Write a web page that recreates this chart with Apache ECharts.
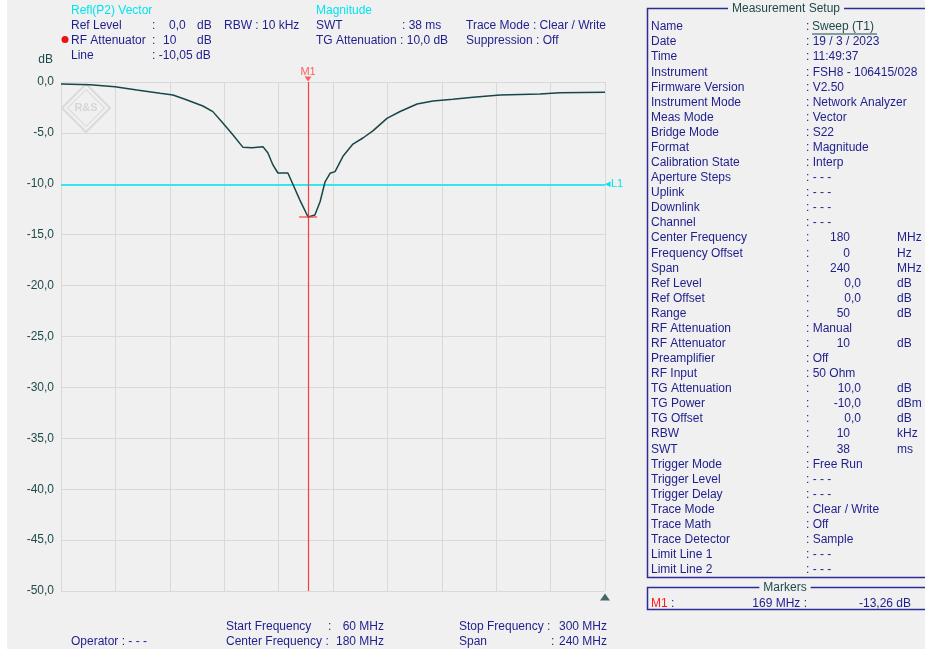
<!DOCTYPE html>
<html>
<head>
<meta charset="utf-8">
<script src="https://cdn.jsdelivr.net/npm/echarts@6/dist/echarts.min.js"></script>
<style>
  html, body { margin: 0; padding: 0; background: #ffffff; }
  #chart { width: 925px; height: 655px; }
</style>
</head>
<body>
<div id="chart"></div>
<script>
// Sweep trace (frequency in MHz, magnitude in dB)
const freqMHz = [60, 72.8, 83.8, 93.5, 103.7, 109.4, 115.6, 122.6, 127, 131.5, 135.9, 140.3, 144.3, 149.1,
  151.3, 153.5, 155.7, 160.1, 162.4, 165.4, 169, 172, 174.3, 176.5, 178.7, 180.9, 184.4, 188.8, 193.2,
  197.6, 203.8, 209.6, 217.1, 224.1, 232.9, 241.8, 253.7, 271.3, 280.1, 300];
const magDB = [-0.2, -0.26, -0.46, -0.79, -1.11, -1.28, -1.77, -2.36, -2.91, -4.05, -5.2, -6.42, -6.45, -6.35,
  -6.97, -8.15, -8.94, -8.94, -10.1, -11.6, -13.26, -13.07, -11.76, -9.8, -8.97, -8.8, -7.3, -6.1, -5.5,
  -4.8, -3.57, -2.9, -2.16, -1.87, -1.7, -1.5, -1.28, -1.18, -1.05, -1.0];

// Marker and limit line
const markerFreq = 169;
const markerLevel = -13.26;
const limitLine = -10.05;

// Axis settings
const startFreq = 60, stopFreq = 300, freqStep = 24;
const refLevel = 0, rangeDB = 50, dbStep = 5;

// Measurement setup table
const setupNames = ['Name', 'Date', 'Time', 'Instrument', 'Firmware Version', 'Instrument Mode', 'Meas Mode',
  'Bridge Mode', 'Format', 'Calibration State', 'Aperture Steps', 'Uplink', 'Downlink', 'Channel',
  'Center Frequency', 'Frequency Offset', 'Span', 'Ref Level', 'Ref Offset', 'Range', 'RF Attenuation',
  'RF Attenuator', 'Preamplifier', 'RF Input', 'TG Attenuation', 'TG Power', 'TG Offset', 'RBW', 'SWT',
  'Trigger Mode', 'Trigger Level', 'Trigger Delay', 'Trace Mode', 'Trace Math', 'Trace Detector',
  'Limit Line 1', 'Limit Line 2'];
const setupValues = ['Sweep (T1)', '19 / 3 / 2023', '11:49:37', 'FSH8 - 106415/028', 'V2.50', 'Network Analyzer',
  'Vector', 'S22', 'Magnitude', 'Interp', '- - -', '- - -', '- - -', '- - -',
  '180', '0', '240', '0,0', '0,0', '50', 'Manual',
  '10', 'Off', '50 Ohm', '10,0', '-10,0', '0,0', '10', '38',
  'Free Run', '- - -', '- - -', 'Clear / Write', 'Off', 'Sample',
  '- - -', '- - -'];
const setupUnits = ['', '', '', '', '', '', '', '', '', '', '', '', '', '',
  'MHz', 'Hz', 'MHz', 'dB', 'dB', 'dB', '',
  'dB', '', '', 'dB', 'dBm', 'dB', 'kHz', 'ms',
  '', '', '', '', '', '', '', ''];

const FONT = '"Liberation Sans", Arial, sans-serif';
const NAVY = '#1e1e8c';
const TEAL = '#1d4a4a';
const CYAN = '#00e5ef';
const RED = '#ff3b3b';
const BG = '#f0f0f0';

function txt(x, y, s, color, opts) {
  opts = opts || {};
  return {
    type: 'text', x: x, y: y + 2, silent: true, z: 10,
    style: {
      text: s, fill: color || NAVY, font: (opts.size || 12) + 'px ' + FONT,
      textAlign: opts.align || 'left', textVerticalAlign: 'middle',
      backgroundColor: opts.bg, padding: opts.pad
    }
  };
}

const graphics = [];

// white margins around the instrument window
graphics.push({ type: 'rect', shape: { x: 0, y: 649, width: 925, height: 6 }, style: { fill: '#ffffff' }, z: -1, silent: true });
graphics.push({ type: 'rect', shape: { x: 0, y: 0, width: 7, height: 655 }, style: { fill: '#ffffff' }, z: -1, silent: true });

// header block
graphics.push(txt(71, 9, 'Refl(P2) Vector', CYAN));
graphics.push(txt(316, 9, 'Magnitude', CYAN));
graphics.push(txt(71, 24, 'Ref Level'));
graphics.push(txt(152, 24, ':'));
graphics.push(txt(169, 24, '0,0'));
graphics.push(txt(197, 24, 'dB'));
graphics.push(txt(224, 24, 'RBW : 10 kHz'));
graphics.push(txt(316, 24, 'SWT'));
graphics.push(txt(402, 24, ': 38 ms'));
graphics.push(txt(466, 24, 'Trace Mode : Clear / Write'));
graphics.push({ type: 'circle', shape: { cx: 65, cy: 39.5, r: 3.5 }, style: { fill: '#ee1111' }, silent: true });
graphics.push(txt(71, 39, 'RF Attenuator'));
graphics.push(txt(152, 39, ':'));
graphics.push(txt(163, 39, '10'));
graphics.push(txt(197, 39, 'dB'));
graphics.push(txt(316, 39, 'TG Attenuation : 10,0 dB'));
graphics.push(txt(466, 39, 'Suppression : Off'));
graphics.push(txt(71, 54, 'Line'));
graphics.push(txt(152, 54, ': -10,05 dB'));
graphics.push(txt(53, 58, 'dB', TEAL, { align: 'right' }));

// watermark logo
graphics.push({ type: 'rect', x: 86, y: 108, rotation: Math.PI / 4, shape: { x: -17, y: -17, width: 34, height: 34 },
  style: { fill: 'none', stroke: '#dadada', lineWidth: 2 }, silent: true, z: 0 });
graphics.push({ type: 'rect', x: 86, y: 108, rotation: Math.PI / 4, shape: { x: -13, y: -13, width: 26, height: 26 },
  style: { fill: 'none', stroke: '#dadada', lineWidth: 1 }, silent: true, z: 0 });
graphics.push({ type: 'text', x: 86, y: 108, silent: true, z: 0,
  style: { text: 'R&S', fill: '#d6d6d6', font: 'bold 11px ' + FONT, textAlign: 'center', textVerticalAlign: 'middle' } });

// footer block
graphics.push(txt(71, 640, 'Operator : - - -'));
graphics.push(txt(226, 625, 'Start Frequency'));
graphics.push(txt(328, 625, ':'));
graphics.push(txt(384, 625, startFreq + ' MHz', NAVY, { align: 'right' }));
graphics.push(txt(226, 640, 'Center Frequency :'));
graphics.push(txt(384, 640, ((startFreq + stopFreq) / 2) + ' MHz', NAVY, { align: 'right' }));
graphics.push(txt(459, 625, 'Stop Frequency :'));
graphics.push(txt(607, 625, stopFreq + ' MHz', NAVY, { align: 'right' }));
graphics.push(txt(459, 640, 'Span'));
graphics.push(txt(551, 640, ':'));
graphics.push(txt(607, 640, (stopFreq - startFreq) + ' MHz', NAVY, { align: 'right' }));

// measurement setup panel
graphics.push({ type: 'rect', shape: { x: 647.5, y: 8.5, width: 290, height: 569 },
  style: { fill: 'none', stroke: '#2c2c96', lineWidth: 1.5 }, silent: true });
graphics.push(txt(786, 7, 'Measurement Setup', TEAL, { align: 'center', bg: BG, pad: [0, 4] }));
setupNames.forEach(function (name, i) {
  const y = 25 + i * 15.08;
  graphics.push(txt(651, y, name));
  const v = setupValues[i];
  const u = setupUnits[i];
  if (u) {
    graphics.push(txt(806, y, ':'));
    graphics.push(txt(v.indexOf(',') >= 0 ? 861 : 850, y, v, NAVY, { align: 'right' }));
    graphics.push(txt(897, y, u));
  } else if (i === 0) {
    graphics.push(txt(806, y, ':'));
    graphics.push(txt(812, y, v, TEAL));
    graphics.push({ type: 'line', shape: { x1: 812, y1: y + 9, x2: 877, y2: y + 9 }, style: { stroke: TEAL, lineWidth: 1 }, silent: true });
  } else {
    graphics.push(txt(806, y, ': ' + v));
  }
});

// markers panel
graphics.push({ type: 'rect', shape: { x: 647.5, y: 587.5, width: 290, height: 22 },
  style: { fill: 'none', stroke: '#2c2c96', lineWidth: 1.5 }, silent: true });
graphics.push(txt(785, 586, 'Markers', TEAL, { align: 'center', bg: BG, pad: [0, 4] }));
graphics.push(txt(651, 602, 'M1', '#ff1a1a'));
graphics.push(txt(671, 602, ':'));
graphics.push(txt(807, 602, markerFreq + ' MHz :', NAVY, { align: 'right' }));
graphics.push(txt(911, 602, markerLevel.toFixed(2).replace('.', ',') + ' dB', NAVY, { align: 'right' }));

const chart = echarts.init(document.getElementById('chart'), null, { renderer: 'canvas' });
chart.setOption({
  backgroundColor: BG,
  animation: false,
  grid: { left: 61, top: 82, width: 544, height: 509, containLabel: false },
  xAxis: {
    type: 'value', min: startFreq, max: stopFreq, interval: freqStep,
    axisLine: { show: false }, axisTick: { show: false }, axisLabel: { show: false },
    splitLine: { show: true, lineStyle: { color: '#d9d9d9', width: 1 } }
  },
  yAxis: {
    type: 'value', min: refLevel - rangeDB, max: refLevel, interval: dbStep,
    axisLine: { show: false }, axisTick: { show: false },
    axisLabel: {
      color: TEAL, fontFamily: FONT, fontSize: 12, margin: 7,
      formatter: function (v) { return v.toFixed(1).replace('.', ','); }
    },
    splitLine: { show: true, lineStyle: { color: '#d9d9d9', width: 1 } }
  },
  series: [
    {
      type: 'line', data: freqMHz.map(function (f, i) { return [f, magDB[i]]; }),
      symbol: 'none', z: 5,
      lineStyle: { color: '#174747', width: 1.5 },
      markLine: {
        silent: true, symbol: 'none', animation: false,
        data: [
          {
            yAxis: limitLine, lineStyle: { color: CYAN, width: 1.5, type: 'solid' },
            label: { show: true, position: 'end', formatter: '◂L1', color: CYAN, fontFamily: FONT, fontSize: 11, distance: 0 }
          },
          {
            xAxis: markerFreq, lineStyle: { color: RED, width: 1.2, type: 'solid' }, label: { show: false }
          }
        ]
      }
    },
    {
      // marker crossbar at the measured level
      type: 'scatter', data: [[markerFreq, markerLevel]], symbol: 'rect', symbolSize: [18, 1.5],
      itemStyle: { color: RED }, z: 6, silent: true
    },
    {
      // marker flag above the grid
      type: 'scatter', data: [[markerFreq, refLevel]], symbol: 'triangle', symbolRotate: 180,
      symbolSize: [7, 5], symbolOffset: [0, -3], itemStyle: { color: RED }, z: 6, silent: true,
      label: { show: true, position: 'top', distance: -1, formatter: 'M1', color: RED, fontFamily: FONT, fontSize: 11 }
    },
    {
      // sweep end indicator
      type: 'scatter', data: [[stopFreq, refLevel - rangeDB]], symbol: 'triangle', symbolSize: [10, 7],
      symbolOffset: [0, 6], itemStyle: { color: '#174747' }, z: 6, silent: true
    }
  ],
  graphic: graphics
});
</script>
</body>
</html>
